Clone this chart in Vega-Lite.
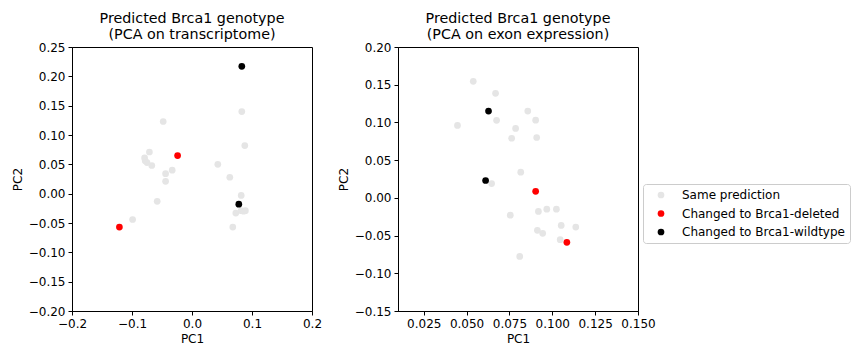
{
  "$schema": "https://vega.github.io/schema/vega-lite/v6.json",
  "padding": {"left": 10, "top": 11, "right": 5, "bottom": 5},
  "background": "white",
  "config": {
    "font": "DejaVu Sans",
    "view": {"stroke": "black", "strokeWidth": 1},
    "axis": {
      "grid": false,
      "domainColor": "black",
      "tickColor": "black",
      "tickSize": 4,
      "labelFontSize": 12,
      "labelColor": "black",
      "titleFontSize": 12,
      "titleFontWeight": "normal",
      "titleColor": "black",
      "labelPadding": 3,
      "labelOverlap": false,
      "labelFlush": false,
      "titlePadding": 4
    },
    "title": {"fontSize": 14.3, "fontWeight": "normal", "lineHeight": 16, "offset": -1, "color": "black"}
  },
  "datasets": {
    "transcriptome": [
      {"pc1": 0.083, "pc2": 0.140, "status": "Same prediction"},
      {"pc1": -0.048, "pc2": 0.123, "status": "Same prediction"},
      {"pc1": 0.088, "pc2": 0.082, "status": "Same prediction"},
      {"pc1": -0.071, "pc2": 0.071, "status": "Same prediction"},
      {"pc1": -0.079, "pc2": 0.061, "status": "Same prediction"},
      {"pc1": -0.078, "pc2": 0.056, "status": "Same prediction"},
      {"pc1": -0.075, "pc2": 0.053, "status": "Same prediction"},
      {"pc1": -0.067, "pc2": 0.048, "status": "Same prediction"},
      {"pc1": 0.043, "pc2": 0.050, "status": "Same prediction"},
      {"pc1": -0.033, "pc2": 0.040, "status": "Same prediction"},
      {"pc1": -0.044, "pc2": 0.034, "status": "Same prediction"},
      {"pc1": -0.044, "pc2": 0.021, "status": "Same prediction"},
      {"pc1": 0.063, "pc2": 0.028, "status": "Same prediction"},
      {"pc1": 0.082, "pc2": -0.003, "status": "Same prediction"},
      {"pc1": -0.058, "pc2": -0.013, "status": "Same prediction"},
      {"pc1": 0.073, "pc2": -0.033, "status": "Same prediction"},
      {"pc1": 0.082, "pc2": -0.029, "status": "Same prediction"},
      {"pc1": 0.086, "pc2": -0.030, "status": "Same prediction"},
      {"pc1": 0.089, "pc2": -0.029, "status": "Same prediction"},
      {"pc1": -0.099, "pc2": -0.044, "status": "Same prediction"},
      {"pc1": 0.068, "pc2": -0.057, "status": "Same prediction"},
      {"pc1": -0.024, "pc2": 0.065, "status": "Changed to Brca1-deleted"},
      {"pc1": -0.121, "pc2": -0.057, "status": "Changed to Brca1-deleted"},
      {"pc1": 0.083, "pc2": 0.217, "status": "Changed to Brca1-wildtype"},
      {"pc1": 0.078, "pc2": -0.018, "status": "Changed to Brca1-wildtype"}
    ],
    "exon": [
      {"pc1": 0.0539, "pc2": 0.1545, "status": "Same prediction"},
      {"pc1": 0.0669, "pc2": 0.1386, "status": "Same prediction"},
      {"pc1": 0.0857, "pc2": 0.115, "status": "Same prediction"},
      {"pc1": 0.0675, "pc2": 0.1028, "status": "Same prediction"},
      {"pc1": 0.0903, "pc2": 0.103, "status": "Same prediction"},
      {"pc1": 0.0447, "pc2": 0.096, "status": "Same prediction"},
      {"pc1": 0.0786, "pc2": 0.092, "status": "Same prediction"},
      {"pc1": 0.0763, "pc2": 0.079, "status": "Same prediction"},
      {"pc1": 0.0909, "pc2": 0.080, "status": "Same prediction"},
      {"pc1": 0.0816, "pc2": 0.034, "status": "Same prediction"},
      {"pc1": 0.0646, "pc2": 0.019, "status": "Same prediction"},
      {"pc1": 0.0968, "pc2": -0.015, "status": "Same prediction"},
      {"pc1": 0.1024, "pc2": -0.015, "status": "Same prediction"},
      {"pc1": 0.0919, "pc2": -0.018, "status": "Same prediction"},
      {"pc1": 0.0755, "pc2": -0.023, "status": "Same prediction"},
      {"pc1": 0.1052, "pc2": -0.0365, "status": "Same prediction"},
      {"pc1": 0.1137, "pc2": -0.0387, "status": "Same prediction"},
      {"pc1": 0.0913, "pc2": -0.043, "status": "Same prediction"},
      {"pc1": 0.0944, "pc2": -0.047, "status": "Same prediction"},
      {"pc1": 0.1046, "pc2": -0.0555, "status": "Same prediction"},
      {"pc1": 0.081, "pc2": -0.0776, "status": "Same prediction"},
      {"pc1": 0.0903, "pc2": 0.0086, "status": "Changed to Brca1-deleted"},
      {"pc1": 0.1085, "pc2": -0.059, "status": "Changed to Brca1-deleted"},
      {"pc1": 0.0628, "pc2": 0.115, "status": "Changed to Brca1-wildtype"},
      {"pc1": 0.0611, "pc2": 0.023, "status": "Changed to Brca1-wildtype"}
    ]
  },
  "spacing": 13,
  "resolve": {"scale": {"color": "independent"}, "legend": {"color": "independent"}},
  "hconcat": [
    {
      "width": 240,
      "height": 264,
      "title": {"text": ["Predicted Brca1 genotype", "(PCA on transcriptome)"]},
      "data": {"name": "transcriptome"},
      "mark": {"type": "circle", "size": 45, "opacity": 1},
      "encoding": {
        "x": {"field": "pc1", "type": "quantitative", "title": "PC1",
              "scale": {"domain": [-0.2, 0.2], "nice": false, "zero": false},
              "axis": {"values": [-0.2, -0.1, 0.0, 0.1, 0.2], "format": ".1f"}},
        "y": {"field": "pc2", "type": "quantitative", "title": "PC2",
              "scale": {"domain": [-0.2, 0.25], "nice": false, "zero": false},
              "axis": {"values": [-0.2, -0.15, -0.1, -0.05, 0.0, 0.05, 0.1, 0.15, 0.2, 0.25], "format": ".2f"}},
        "color": {"field": "status", "type": "nominal",
                  "scale": {"domain": ["Same prediction", "Changed to Brca1-deleted", "Changed to Brca1-wildtype"],
                            "range": ["#e5e5e5", "#ff0000", "#000000"]},
                  "legend": null}
      }
    },
    {
      "width": 240,
      "height": 264,
      "title": {"text": ["Predicted Brca1 genotype", "(PCA on exon expression)"]},
      "data": {"name": "exon"},
      "mark": {"type": "circle", "size": 45, "opacity": 1},
      "encoding": {
        "x": {"field": "pc1", "type": "quantitative", "title": "PC1",
              "scale": {"domain": [0.01, 0.15], "nice": false, "zero": false},
              "axis": {"values": [0.025, 0.05, 0.075, 0.1, 0.125, 0.15], "format": ".3f"}},
        "y": {"field": "pc2", "type": "quantitative", "title": "PC2",
              "scale": {"domain": [-0.15, 0.2], "nice": false, "zero": false},
              "axis": {"values": [-0.15, -0.1, -0.05, 0.0, 0.05, 0.1, 0.15, 0.2], "format": ".2f"}},
        "color": {"field": "status", "type": "nominal",
                  "scale": {"domain": ["Same prediction", "Changed to Brca1-deleted", "Changed to Brca1-wildtype"],
                            "range": ["#e5e5e5", "#ff0000", "#000000"]},
                  "legend": {"title": null, "orient": "none", "legendX": 245, "legendY": 137,
                             "labelFontSize": 12, "labelColor": "black", "labelLimit": 400, "symbolType": "circle", "symbolSize": 45,
                             "strokeColor": "#cccccc", "cornerRadius": 3, "padding": 5, "rowPadding": 6.5,
                             "symbolOffset": 7, "labelOffset": 15, "fillColor": "white"}}
      }
    }
  ]
}
